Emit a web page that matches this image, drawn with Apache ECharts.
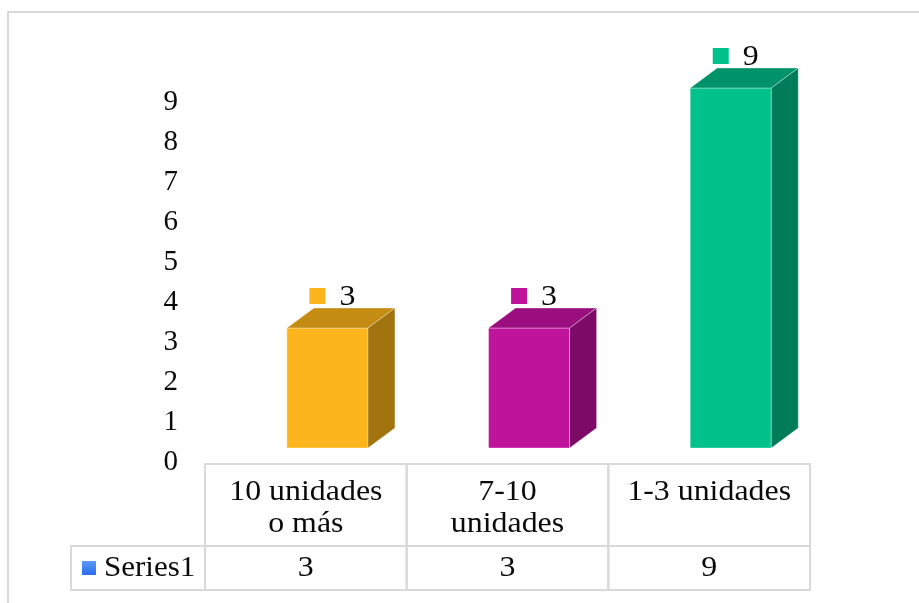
<!DOCTYPE html>
<html>
<head>
<meta charset="utf-8">
<script src="https://cdn.jsdelivr.net/npm/echarts@6/dist/echarts.min.js"></script>
<style>
  html, body { margin: 0; padding: 0; background: #fff; }
  #chart { width: 919px; height: 603px; }
</style>
</head>
<body>
<div id="chart"></div>
<script>
// Chart data
const categories = ['10 unidades\no más', '7-10\nunidades', '1-3 unidades'];
const values = [3, 3, 9];
const seriesName = 'Series1';
const yMin = 0, yMax = 9, yStep = 1;

// Per-bar face shading (front, top, side)
const faces = [
  { front: '#FCB51C', top: '#C58C13', side: '#A2740F' },
  { front: '#C0139C', top: '#9B0E80', side: '#7D0A67' },
  { front: '#00C28A', top: '#00936A', side: '#007C58' }
];

const FONT = '"Liberation Serif", "Times New Roman", serif';
const FS = 29;
const TEXT = '#0a0a0a';
const GRID_LINE = '#d9d9d9';
const WIDEN = 1.1; // slightly wider serif lettering
const DEPTH_X = 27, DEPTH_Y = 20, LIFT = 14;

const seriesData = values.map((v, i) => [i, v]);

// 3D-looking box for each bar, plus its value marker
function renderBar(params, api) {
  const i = params.dataIndex;
  const v = api.value(1);
  const base = api.coord([api.value(0), 0]);
  const topPt = api.coord([api.value(0), v]);
  const bw = api.size([1, 0])[0];
  const c = faces[i];
  const fx = base[0] - bw * 0.094;
  const fw = bw * 0.402;
  const yb = base[1] - LIFT;
  const yt = topPt[1] - LIFT;
  const fc = fx + fw / 2;
  const edge = 'rgba(255,255,255,0.35)';
  return {
    type: 'group',
    children: [
      { type: 'rect', shape: { x: fx, y: yt, width: fw, height: yb - yt },
        style: { fill: c.front, stroke: edge, lineWidth: 1 } },
      { type: 'polygon', shape: { points: [[fx, yt], [fx + DEPTH_X, yt - DEPTH_Y], [fx + fw + DEPTH_X, yt - DEPTH_Y], [fx + fw, yt]] },
        style: { fill: c.top, stroke: edge, lineWidth: 1 } },
      { type: 'polygon', shape: { points: [[fx + fw, yt], [fx + fw + DEPTH_X, yt - DEPTH_Y], [fx + fw + DEPTH_X, yb - DEPTH_Y], [fx + fw, yb]] },
        style: { fill: c.side, stroke: edge, lineWidth: 1 } },
      { type: 'rect', shape: { x: fc - 18, y: yt - 40, width: 16, height: 16 },
        style: { fill: c.front } },
      { type: 'text', x: fc + 12, y: yt - 31, scaleX: WIDEN,
        style: { x: 0, y: 0, text: String(v), fill: TEXT,
          font: FS + 'px ' + FONT, align: 'left', verticalAlign: 'middle' } }
    ]
  };
}

// Data table beneath the plot: category header cell and value cell per column
function renderTable(params, api) {
  const idx = api.value(0);
  const v = api.value(1);
  const base = api.coord([idx, 0]);
  const bw = api.size([1, 0])[0];
  const x0 = base[0] - bw / 2;
  const yTop = base[1] + 2;
  const yMid = base[1] + 84;
  const yBot = base[1] + 128;
  return {
    type: 'group',
    children: [
      { type: 'rect', shape: { x: x0, y: yTop, width: bw, height: yMid - yTop },
        style: { fill: 'none', stroke: GRID_LINE, lineWidth: 2 } },
      { type: 'rect', shape: { x: x0, y: yMid, width: bw, height: yBot - yMid },
        style: { fill: 'none', stroke: GRID_LINE, lineWidth: 2 } },
      { type: 'text', x: base[0], y: yTop + 13, scaleX: WIDEN,
        style: { x: 0, y: 0, text: categories[idx], fill: TEXT,
          font: FS + 'px ' + FONT, lineHeight: 31.5, align: 'center', verticalAlign: 'top' } },
      { type: 'text', x: base[0], y: (yMid + yBot) / 2, scaleX: WIDEN,
        style: { x: 0, y: 0, text: String(v), fill: TEXT,
          font: FS + 'px ' + FONT, align: 'center', verticalAlign: 'middle' } }
    ]
  };
}

const chart = echarts.init(document.getElementById('chart'), null, { renderer: 'canvas' });
chart.setOption({
  animation: false,
  backgroundColor: '#fff',
  grid: { left: 205, right: 109, top: 102, bottom: 141 },
  xAxis: {
    type: 'category',
    data: categories,
    axisLine: { show: false },
    axisTick: { show: false },
    axisLabel: { show: false },
    splitLine: { show: false }
  },
  yAxis: {
    type: 'value',
    min: yMin, max: yMax, interval: yStep,
    axisLine: { show: false },
    axisTick: { show: false },
    splitLine: { show: false },
    axisLabel: { fontFamily: FONT, fontSize: FS, color: TEXT, margin: 27 }
  },
  graphic: [
    { type: 'rect', silent: true, shape: { x: 8, y: 12, width: 1000, height: 700 },
      style: { fill: 'none', stroke: GRID_LINE, lineWidth: 2 } },
    { type: 'rect', silent: true, shape: { x: 71, y: 546, width: 134, height: 44 },
      style: { fill: 'none', stroke: GRID_LINE, lineWidth: 2 } },
    { type: 'rect', silent: true, shape: { x: 82, y: 561, width: 14, height: 14 },
      style: { fill: new echarts.graphic.LinearGradient(0, 0, 0, 1, [
        { offset: 0, color: '#5B9BF8' }, { offset: 1, color: '#2A6BE9' }]) } },
    { type: 'text', silent: true, x: 104, y: 568, scaleX: 1.07,
      style: { x: 0, y: 0, text: seriesName, fill: TEXT,
        font: FS + 'px ' + FONT, align: 'left', verticalAlign: 'middle' } }
  ],
  series: [
    { type: 'custom', name: seriesName, data: seriesData, clip: false,
      encode: { x: 0, y: 1 }, renderItem: renderBar },
    { type: 'custom', name: 'table', data: seriesData, clip: false,
      encode: { x: 0, y: 1 }, renderItem: renderTable }
  ]
});
</script>
</body>
</html>
